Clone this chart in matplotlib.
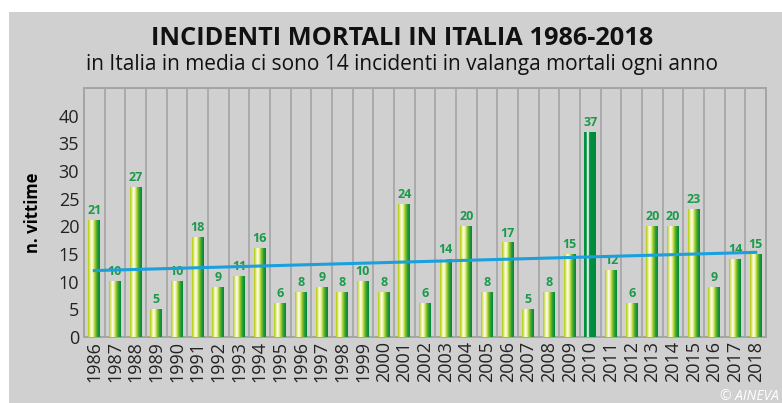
import numpy as np
import matplotlib
matplotlib.use("Agg")
import matplotlib.pyplot as plt
from matplotlib.colors import LinearSegmentedColormap
from matplotlib.patches import Rectangle

plt.rcParams['font.family'] = ['Open Sans', 'DejaVu Sans']

years = [str(y) for y in range(1986, 2019)]
vittime = [21, 10, 27, 5, 10, 18, 9, 11, 16, 6, 8, 9, 8, 10, 8, 24, 6, 14,
           20, 8, 17, 5, 8, 15, 37, 12, 6, 20, 20, 23, 9, 14, 15]
highlight_year = "2010"
trend_start = 12.0   # linea di tendenza, 1986
trend_end = 15.3     # 2018

title = "INCIDENTI MORTALI IN ITALIA 1986-2018"
subtitle = "in Italia in media ci sono 14 incidenti in valanga mortali ogni anno"

W, H = 782, 403
fig = plt.figure(figsize=(W / 100, H / 100), dpi=100)
fig.patch.set_facecolor('white')
bg = '#d0d0d0'
fig.add_artist(Rectangle((9 / W, 0), 1 - 9 / W, 1 - 12 / H, transform=fig.transFigure,
                         facecolor=bg, edgecolor='none', zorder=0))

ax = fig.add_axes([84 / W, 66 / H, 682 / W, 249 / H])
ax.set_facecolor(bg)

cmap_bar = LinearSegmentedColormap.from_list(
    'bar', [(0.0, '#b4cc00'), (0.3, '#ffffff'), (0.45, '#e4ee80'),
            (0.62, '#8cc420'), (0.8, '#2a9e3a'), (1.0, '#00873a')])
cmap_hl = LinearSegmentedColormap.from_list(
    'hl', [(0.0, '#00913f'), (0.2, '#00913f'), (0.28, '#ffffff'), (0.36, '#ffffff'),
           (0.44, '#00913f'), (1.0, '#008a3c')])
grad = np.linspace(0, 1, 64).reshape(1, -1)

x = np.arange(len(years))
bw = 0.58
for xi, yr, v in zip(x, years, vittime):
    cm_use = cmap_hl if yr == highlight_year else cmap_bar
    ax.imshow(grad, cmap=cm_use, aspect='auto', interpolation='bilinear',
              extent=(xi - bw / 2, xi + bw / 2, 0, v), zorder=3)
    ax.text(xi, v + 0.6, str(v), ha='center', va='bottom', fontsize=9,
            fontweight='bold', color='#1a9a4a', zorder=4)

ax.plot([x[0], x[-1]], [trend_start, trend_end], color='#1aa0dc', lw=2.2, zorder=5)

ax.set_xlim(-0.5, len(years) - 0.5)
ax.set_ylim(0, 45)
ax.set_xticks(x)
ax.set_xticklabels(years, rotation=90, fontsize=13, color='#222222')
ax.set_xticks(np.arange(-0.5, len(years), 1), minor=True)
ax.set_yticks(np.arange(0, 45, 5))
ax.set_yticks(np.arange(0, 50, 5), minor=True)
ax.tick_params(axis='y', labelsize=13, colors='#222222')
ax.tick_params(which='both', length=0)
ax.tick_params(axis='x', pad=3)
ax.grid(which='minor', color='#a4a4a4', lw=1.2, zorder=1)
ax.grid(which='major', visible=False)
for s in ax.spines.values():
    s.set_color('#a4a4a4')
    s.set_linewidth(1.4)
ax.set_ylabel('n. vittime', fontsize=12, fontweight='bold', labelpad=12)

fig.text(402 / W, 1 - 45 / H, title, ha='center', va='baseline',
         fontsize=18.3, fontweight='bold', color='#111111')
fig.text(402 / W, 1 - 70 / H, subtitle, ha='center', va='baseline',
         fontsize=15, color='#111111')
fig.text(779 / W, 3 / H, '© AINEVA', ha='right', va='baseline', fontsize=10,
         style='italic', color='white')

fig.savefig('out.png', dpi=100, facecolor=fig.get_facecolor())
